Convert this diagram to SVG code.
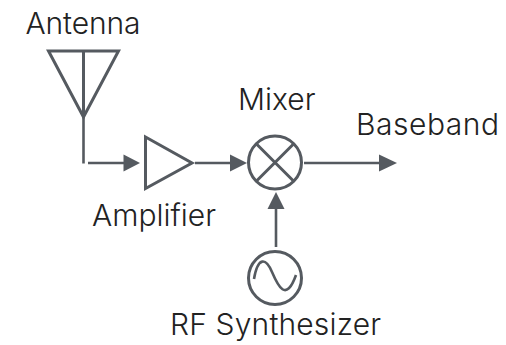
<svg xmlns="http://www.w3.org/2000/svg" width="506" height="345" viewBox="0 0 506 345">
<style>
.s{fill:none;stroke:#555a60;stroke-width:3}
.c{fill:none;stroke:#555a60;stroke-width:2.6}
.a{fill:#555a60}
text{font-family:"Inter","Liberation Sans",sans-serif;font-weight:300;font-size:30px;fill:#222}
</style>
<rect width="506" height="345" fill="#fff"/>
<g id="connectors">
<path class="c" d="M83.500 117V163.500"/>
<path class="c" d="M88 163H126"/><path class="a" d="M123.500 154.500L140 163L123.500 171.500Z"/>
<path class="c" d="M195 163H232"/><path class="a" d="M230 154.500L247 163L230 171.500Z"/>
<path class="c" d="M304 163H382"/><path class="a" d="M379 154.500L397 163L379 171.500Z"/>
<path class="c" d="M276 247V208"/><path class="a" d="M267.500 209L276 192L284.500 209Z"/>
</g>
<g id="antenna"><path class="s" d="M48.500 51H118.500L83.500 117Z M83.500 51V117"/><text x="25.500" y="34" textLength="115">Antenna</text></g>
<g id="amplifier"><path class="s" d="M145.500 137V188.500L192 163Z"/><text x="92" y="226">Amplifier</text></g>
<g id="mixer"><circle class="s" cx="275" cy="162.500" r="26.500"/><path class="s" d="M256.500 144L293.500 181M293.500 144L256.500 181"/><text x="238" y="110">Mixer</text></g>
<g id="baseband"><text x="356" y="135" textLength="143">Baseband</text></g>
<g id="synth"><circle class="s" cx="275" cy="278" r="26.500"/><path class="c" d="M254 279C258 256 266 258 272 272S286 303 296 275"/><text x="170" y="335" textLength="211">RF Synthesizer</text></g>
</svg>
